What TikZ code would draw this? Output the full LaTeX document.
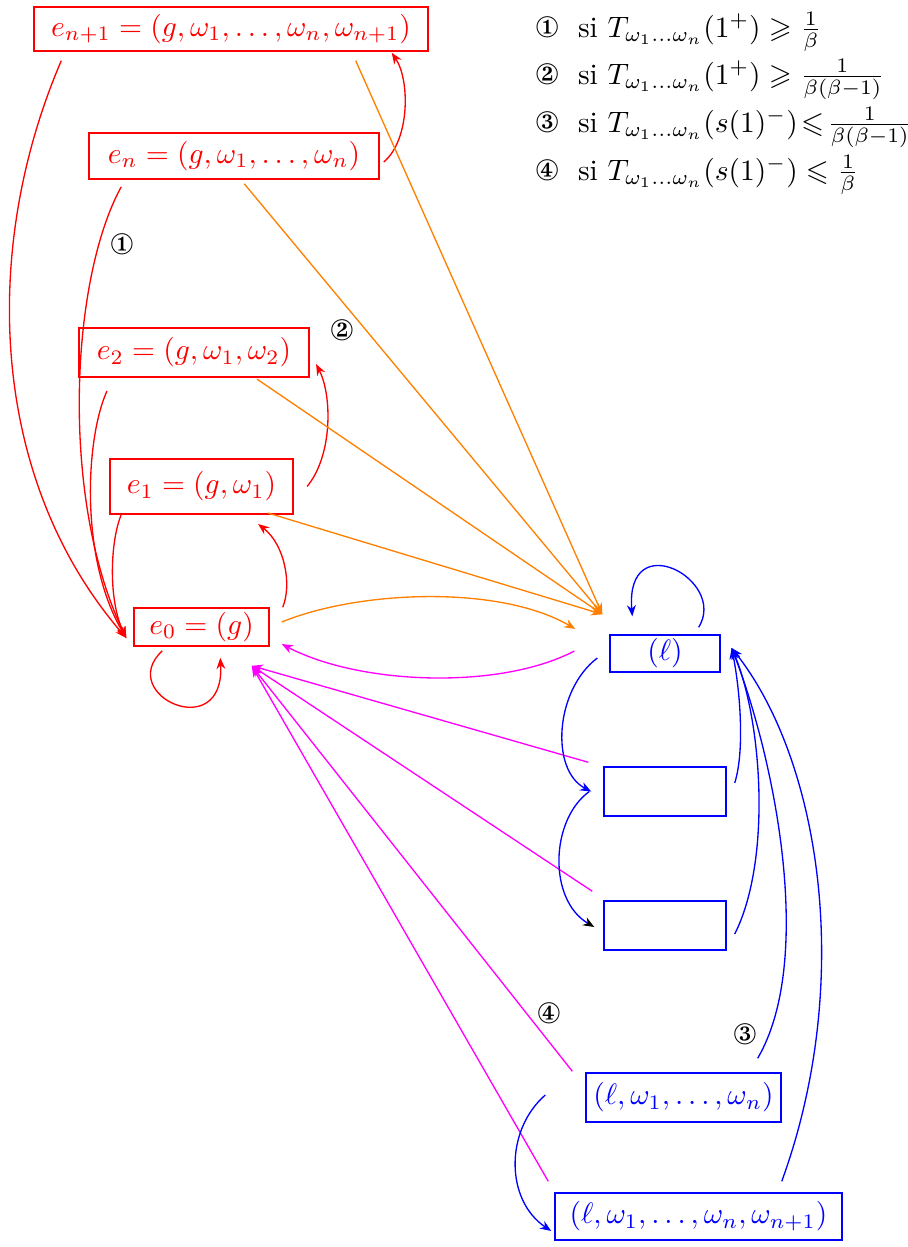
\documentclass[tikz,border=0pt]{standalone}
\usepackage{amssymb}
\usepackage{pifont}
\usetikzlibrary{arrows.meta,calc}

\definecolor{violine}{RGB}{255,0,255}
\tikzset{etat/.style 2 args={draw,rectangle,inner sep=0pt,line width=0.5pt,minimum width=#1,minimum height=#2},
        fleche/.style={-{Stealth[length=3.8pt,width=3pt]},line width=0.45pt},
        trait/.style={line width=0.45pt},
        legende/.style={anchor=base west,inner sep=0pt}}

\begin{document}
\begin{tikzpicture}[x=0.3386pt,y=-0.3386pt]
        \useasboundingbox (0,0) rectangle (908,1247);
        \node[etat={133.4pt}{14.9pt},red] (enn) at (231,29) {$e_{n+1}=(g,\omega_1,\ldots,\omega_n,\omega_{n+1})$};
        \node[etat={98.2pt}{15.6pt},red] (en) at (234,156) {$e_n=(g,\omega_1,\ldots,\omega_n)$};
        \node[etat={77.9pt}{16.6pt},red,line width=0.7pt] (etwo) at (194,352.5) {$e_2=(g,\omega_1,\omega_2)$};
        \node[etat={62pt}{18.6pt},red,line width=0.7pt] (eone) at (201.5,486.5) {$e_1=(g,\omega_1)$};
        \node[etat={45.7pt}{12.9pt},red] (ezero) at (201.5,627) {$e_0=(g)$};
        \node[etat={37.2pt}{12.5pt},blue] (ell) at (665,653.5) {$(\ell)$};
        \node[etat={41.3pt}{16.6pt},blue] (bone) at (665,791.5) {};
        \node[etat={41.3pt}{16.6pt},blue] (btwo) at (665,925.5) {};
        \node[etat={66pt}{16.6pt},blue] (lwn) at (683.5,1097.5) {$(\ell,\omega_1,\ldots,\omega_n)$};
        \node[etat={97.2pt}{15.9pt},blue] (lwnn) at (698.5,1216.5) {$(\ell,\omega_1,\ldots,\omega_n,\omega_{n+1})$};

        \node[legende] (legA) at (535,37) {\ding{172}\hspace{6.5pt}si $T_{\omega_1\ldots\omega_n}(1^+)\geqslant\frac{1}{\beta}$};
        \node[legende] (legB) at (535,84) {\ding{173}\hspace{6.5pt}si $T_{\omega_1\ldots\omega_n}(1^+)\geqslant\frac{1}{\beta(\beta-1)}$};
        \node[legende] (legC) at (535,132) {\ding{174}\hspace{6.5pt}si $T_{\omega_1\ldots\omega_n}(s(1)^-)\!\leqslant\!\frac{1}{\beta(\beta-1)}$};
        \node[legende] (legD) at (535,180) {\ding{175}\hspace{6.5pt}si $T_{\omega_1\ldots\omega_n}(s(1)^-)\leqslant\frac{1}{\beta}$};

        \node (cA) at (122,244) {\ding{172}};
        \node (cB) at (342,330) {\ding{173}};
        \node (cC) at (745,1034) {\ding{174}};
        \node (cD) at (549,1013) {\ding{175}};

        \coordinate (versg) at ($(ezero.west)+(-7,11)$);
        \coordinate (verso) at ($(ell.north west)+(-7,-20)$);
        \coordinate (versm) at ($(ezero.south east)+(-18,19)$);
        \coordinate (versl) at ($(ell.east)+(11,-5.5)$);

        \draw[fleche,red] ($(enn.south west)+(28,9)$) .. controls (-20,250) and (-10,480) .. (versg);
        \draw[fleche,red] ($(en.south west)+(33,7)$) .. controls (70,280) and (60,500) .. (versg);
        \draw[fleche,red] ($(etwo.south west)+(29,13)$) .. controls (85,440) and (80,560) .. (versg);
        \draw[fleche,red] ($(eone.south west)+(13,-2)$) .. controls (110,540) and (108,600) .. (versg);
        \draw[fleche,red] ($(ezero.south west)+(29,4)$) .. controls (115,695) and (225,745) .. ($(ezero.south west)+(87,11)$);
        \draw[fleche,red] ($(ezero.north east)+(13,0)$) .. controls (292,585) and (285,545) .. ($(eone.south east)+(-36,9)$);
        \draw[fleche,red] ($(eone.east)+(13,0)$) .. controls (333,455) and (332,395) .. ($(etwo.south east)+(6,-14)$);
        \draw[fleche,red] ($(en.east)+(4,6)$) .. controls (410,140) and (410,80) .. ($(enn.south east)+(-37,1)$);

        \draw[fleche,orange] ($(enn.south east)+(-73,9)$) -- (verso);
        \draw[fleche,orange] ($(en.south west)+(156,4)$) -- (verso);
        \draw[fleche,orange] ($(etwo.south west)+(179,1)$) -- (verso);
        \draw[fleche,orange] ($(eone.south west)+(159,-2)$) -- (verso);
        \draw[fleche,orange] ($(ezero.east)+(12,-5)$) .. controls (360,590) and (500,585) .. ($(ell.west)+(-34,-24.5)$);

        \draw[fleche,violine] ($(ell.west)+(-35,-2.5)$) .. controls (500,690) and (360,685) .. ($(ezero.east)+(12,17)$);
        \draw[fleche,violine] ($(bone.north west)+(-15,-4)$) -- (versm);
        \draw[fleche,violine] ($(btwo.north west)+(-11,-9)$) -- (versm);
        \draw[fleche,violine] ($(lwn.north west)+(-13,-1)$) -- (versm);
        \draw[fleche,violine] ($(lwnn.north west)+(-6,-11)$) -- (versm);

        \draw[fleche,blue] ($(ell.north east)+(-22,-7)$) .. controls (728,580) and (625,525) .. ($(ell.north west)+(23,-18)$);
        \draw[fleche,blue] ($(ell.west)+(-12,4.5)$) .. controls (555,690) and (550,770) .. ($(bone.west)+(-12,0)$);
        \draw[trait,blue,-{Stealth[length=3.8pt,width=3pt,black]}] ($(bone.west)+(-14,0)$) .. controls (550,820) and (548,900) .. ($(btwo.west)+(-9,1.5)$);
        \draw[fleche,blue] ($(bone.east)+(8,-8.5)$) .. controls (745,750) and (740,690) .. (versl);
        \draw[fleche,blue] ($(btwo.east)+(8,8.5)$) .. controls (772,860) and (762,720) .. (versl);
        \draw[fleche,blue] ($(lwn.north east)+(-24,-14)$) .. controls (815,960) and (775,760) .. (versl);
        \draw[fleche,blue] ($(lwnn.north east)+(-61,-11)$) .. controls (855,980) and (820,760) .. (versl);
        \draw[fleche,blue] ($(lwn.west)+(-40,-2.5)$) .. controls (505,1130) and (505,1200) .. ($(lwnn.west)+(-3,14.5)$);
\end{tikzpicture}
\end{document}
